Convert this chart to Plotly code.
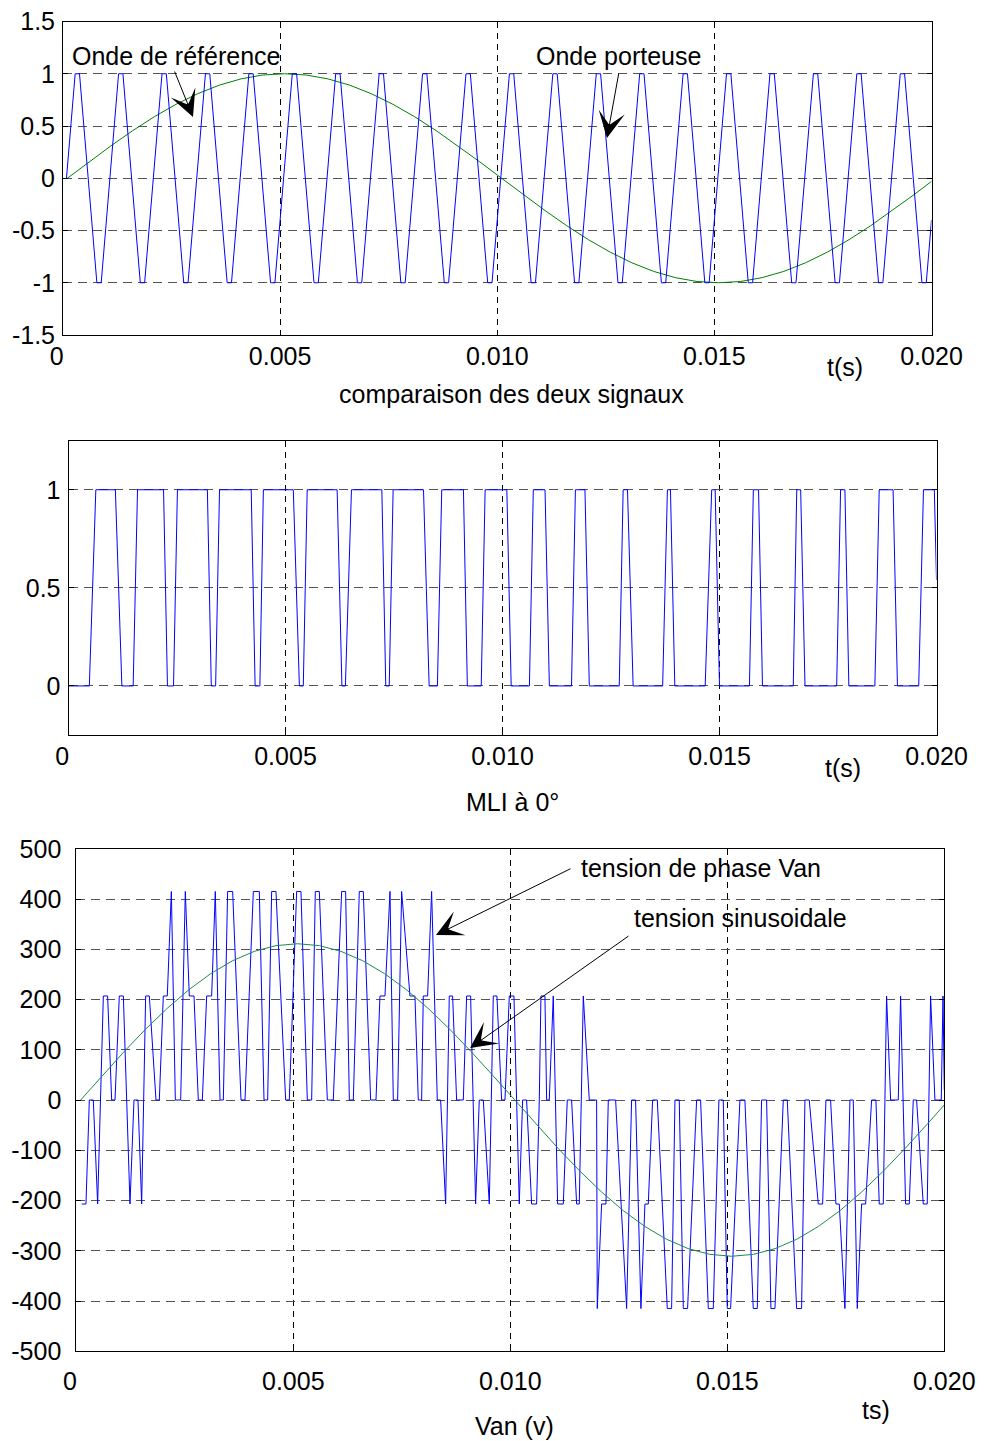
import plotly.graph_objects as go

W, H = 984, 1441
FONT = "Liberation Sans, Arial, sans-serif"
FS = 25

# ---------------- data (times in ms) ----------------
# carrier (triangle) vertices, top chart
carrier_t_ms = [0.08,
                0.28, 0.38, 0.78, 0.88, 1.28, 1.38, 1.78, 1.88, 2.28, 2.38, 2.78, 2.88,
                3.28, 3.38, 3.78, 3.88, 4.28, 4.38, 4.78, 4.88, 5.28, 5.38, 5.78, 5.88,
                6.28, 6.38, 6.78, 6.88, 7.28, 7.38, 7.78, 7.88, 8.28, 8.38, 8.78, 8.88,
                9.28, 9.38, 9.78, 9.88, 10.28, 10.38, 10.78, 10.88, 11.28, 11.38, 11.78, 11.88,
                12.28, 12.38, 12.78, 12.88, 13.28, 13.38, 13.78, 13.88, 14.28, 14.38, 14.78, 14.88,
                15.28, 15.38, 15.78, 15.88, 16.28, 16.38, 16.78, 16.88, 17.28, 17.38, 17.78, 17.88,
                18.28, 18.38, 18.78, 18.88, 19.28, 19.38, 19.78, 19.88,
                20.0]
carrier_v = [0,
             1, 1, -1, -1, 1, 1, -1, -1, 1, 1, -1, -1,
             1, 1, -1, -1, 1, 1, -1, -1, 1, 1, -1, -1,
             1, 1, -1, -1, 1, 1, -1, -1, 1, 1, -1, -1,
             1, 1, -1, -1, 1, 1, -1, -1, 1, 1, -1, -1,
             1, 1, -1, -1, 1, 1, -1, -1, 1, 1, -1, -1,
             1, 1, -1, -1, 1, 1, -1, -1, 1, 1, -1, -1,
             1, 1, -1, -1, 1, 1, -1, -1,
             -0.4]

# reference wave samples (top chart) and sinusoidal voltage (bottom chart)
sin_t_ms = [0.1, 0.6, 1.1, 1.6, 2.1, 2.6, 3.1, 3.6, 4.1, 4.6,
            5.1, 5.6, 6.1, 6.6, 7.1, 7.6, 8.1, 8.6, 9.1, 9.6,
            10.1, 10.6, 11.1, 11.6, 12.1, 12.6, 13.1, 13.6, 14.1, 14.6,
            15.1, 15.6, 16.1, 16.6, 17.1, 17.6, 18.1, 18.6, 19.1, 19.6, 20.0]
ref_v = [0, 0.156, 0.309, 0.454, 0.588, 0.707, 0.809, 0.891, 0.951, 0.988,
         1.0, 0.988, 0.951, 0.891, 0.809, 0.707, 0.588, 0.454, 0.309, 0.156,
         0, -0.156, -0.309, -0.454, -0.588, -0.707, -0.809, -0.891, -0.951, -0.988,
         -1.0, -0.988, -0.951, -0.891, -0.809, -0.707, -0.588, -0.454, -0.309, -0.156, -0.03]
vsin_v = [0, 48.6, 96.1, 141.2, 182.8, 219.9, 251.6, 277.1, 295.8, 307.2,
          311.0, 307.2, 295.8, 277.1, 251.6, 219.9, 182.8, 141.2, 96.1, 48.6,
          0, -48.6, -96.1, -141.2, -182.8, -219.9, -251.6, -277.1, -295.8, -307.2,
          -311.0, -307.2, -295.8, -277.1, -251.6, -219.9, -182.8, -141.2, -96.1, -48.6, -9.8]

# PWM (MLI) switching vertices, middle chart
pwm_t_ms = [0, 0.48, 0.63, 1.08, 1.23, 1.49, 1.59, 2.19, 2.28, 2.42, 2.51, 3.20,
            3.29, 3.39, 3.48, 4.21, 4.30, 4.41, 4.49, 5.18, 5.32, 5.41, 5.50, 6.19,
            6.30, 6.38, 6.52, 7.22, 7.31, 7.39, 7.48, 8.18, 8.31, 8.50, 8.60, 9.10,
            9.19, 9.51, 9.60, 10.10, 10.20, 10.62, 10.71, 10.98, 11.08, 11.59, 11.68, 11.90,
            12.00, 12.69, 12.78, 12.88, 13.01, 13.69, 13.80, 13.87, 13.97, 14.67, 14.82, 14.90,
            15.00, 15.69, 15.78, 15.90, 15.99, 16.70, 16.78, 16.87, 16.97, 17.70, 17.79, 17.89,
            17.98, 18.58, 18.68, 19.00, 19.10, 19.59, 19.70, 19.95, 20.0]
pwm_v = [0, 0, 1, 1, 0, 0, 1, 1, 0, 0, 1, 1,
         0, 0, 1, 1, 0, 0, 1, 1, 0, 0, 1, 1,
         0, 0, 1, 1, 0, 0, 1, 1, 0, 0, 1, 1,
         0, 0, 1, 1, 0, 0, 1, 1, 0, 0, 1, 1,
         0, 0, 1, 1, 0, 0, 1, 1, 0, 0, 1, 1,
         0, 0, 1, 1, 0, 0, 1, 1, 0, 0, 1, 1,
         0, 0, 1, 1, 0, 0, 1, 1, 0.54]

# phase voltage Van vertices, bottom chart
van_t_ms = [0.124, 0.223, 0.300, 0.392, 0.492, 0.561, 0.623, 0.722, 0.815, 0.892,
            0.991, 1.084, 1.237, 1.329, 1.421, 1.506, 1.598, 1.683, 1.836, 1.913,
            2.005, 2.097, 2.190, 2.282, 2.405, 2.512, 2.604, 2.712, 2.811, 2.904,
            3.004, 3.119, 3.203, 3.311, 3.388, 3.487, 3.603, 3.795, 3.887, 4.079,
            4.217, 4.325, 4.409, 4.501, 4.601, 4.824, 4.908, 5.077, 5.177, 5.323,
            5.423, 5.507, 5.600, 5.784, 5.922, 6.114, 6.206, 6.291, 6.383, 6.521,
            6.613, 6.782, 6.905, 6.997, 7.112, 7.228, 7.304, 7.404, 7.496, 7.688,
            7.803, 7.880, 7.957, 7.995, 8.095, 8.187, 8.318, 8.395, 8.510, 8.594,
            8.671, 8.763, 8.917, 8.994, 9.086, 9.201, 9.285, 9.378, 9.516, 9.608,
            9.692, 9.800, 9.877, 9.977, 10.084, 10.207, 10.284, 10.376, 10.491, 10.606,
            10.668, 10.706, 10.798, 10.837, 10.898, 10.990, 11.090, 11.221, 11.313, 11.413,
            11.528, 11.589, 11.682, 11.820, 11.989, 12.004, 12.104, 12.204, 12.258, 12.427,
            12.680, 12.795, 12.887, 13.010, 13.102, 13.179, 13.279, 13.387, 13.617, 13.717,
            13.794, 13.893, 13.986, 14.085, 14.293, 14.385, 14.562, 14.677, 14.807, 14.907,
            14.999, 15.076, 15.291, 15.406, 15.598, 15.691, 15.790, 15.906, 16.005, 16.098,
            16.290, 16.382, 16.597, 16.712, 16.789, 16.889, 17.096, 17.196, 17.273, 17.380,
            17.503, 17.580, 17.710, 17.826, 17.902, 17.995, 18.094, 18.187, 18.325, 18.425,
            18.501, 18.594, 18.670, 18.763, 18.939, 18.993, 19.108, 19.193, 19.285, 19.362,
            19.515, 19.607, 19.684, 19.784, 19.930, 19.970, 20.0]
van_v = [-207, -207, 0, 0, -207, 0, 207, 207, 0, 0,
         207, 207, -207, 0, 0, -207, 207, 207, 0, 0,
         207, 207, 415, 0, 0, 415, 207, 207, 0, 0,
         207, 207, 415, 0, 0, 415, 415, 0, 0, 415,
         415, 0, 0, 415, 415, 0, 0, 415, 415, 0,
         0, 415, 415, 0, 0, 415, 415, 0, 0, 415,
         415, 0, 0, 207, 207, 415, 0, 0, 415, 207,
         207, 0, 0, 207, 207, 415, 0, 0, -207, 207,
         207, 0, 0, 207, 207, -207, 0, 0, -207, 207,
         207, 0, 0, 207, 207, -207, 0, 0, -207, -207,
         0, 207, 207, 0, 0, 207, -207, -207, 0, 0,
         -207, -207, 207, 0, 0, -415, -207, -207, 0, 0,
         -415, 0, 0, -415, -207, -207, 0, 0, -415, -415,
         0, 0, -415, -415, 0, 0, -415, -415, 0, 0,
         -415, -415, 0, 0, -415, -415, 0, 0, -415, -415,
         0, 0, -415, -415, 0, 0, -207, -207, 0, 0,
         -207, -207, -415, 0, 0, -415, -207, -207, 0, 0,
         -207, -207, 207, 0, 0, 207, -207, -207, 0, 0,
         -207, -207, 207, 0, 0, 207, 20]

x_tickvals = [0, 0.005, 0.010, 0.015, 0.020]
x_ticktext = ["0\u2002", "0.005", "0.010", "0.015", "0.020"]
top_yvals = [1.5, 1, 0.5, 0, -0.5, -1, -1.5]
top_ytext = ["1.5", "1", "0.5", "0", "-0.5", "-1", "-1.5"]
mid_yvals = [0, 0.5, 1]
mid_ytext = ["0", "0.5", "1"]
bot_yvals = [500, 400, 300, 200, 100, 0, -100, -200, -300, -400, -500]
bot_ytext = ["500", "400", "300", "200", "100", "0", "-100", "-200", "-300", "-400", "-500"]


def sec(lst):
    return [v / 1000.0 for v in lst]


def px(x):
    return x / W


def py(y):
    return 1 - y / H


BLUE = "#0000FF"
GREEN = "#008000"

fig = go.Figure()
fig.add_trace(go.Scatter(x=sec(sin_t_ms), y=ref_v, mode="lines",
                         line=dict(color=GREEN, width=1), xaxis="x", yaxis="y"))
fig.add_trace(go.Scatter(x=sec(carrier_t_ms), y=carrier_v, mode="lines",
                         line=dict(color=BLUE, width=1), xaxis="x", yaxis="y"))
fig.add_trace(go.Scatter(x=sec(pwm_t_ms), y=pwm_v, mode="lines",
                         line=dict(color=BLUE, width=1), xaxis="x2", yaxis="y2"))
fig.add_trace(go.Scatter(x=sec(van_t_ms), y=van_v, mode="lines",
                         line=dict(color=BLUE, width=1), xaxis="x3", yaxis="y3"))
fig.add_trace(go.Scatter(x=sec(sin_t_ms), y=vsin_v, mode="lines",
                         line=dict(color="#1E8A4C", width=1), xaxis="x3", yaxis="y3"))


def xax(dom, standoff, anchor):
    return dict(domain=dom, range=[0, 0.02], tickvals=x_tickvals, ticktext=x_ticktext,
                anchor=anchor, automargin=False,
                showline=True, linecolor="black", linewidth=1, mirror="ticks",
                ticks="inside", ticklen=5, tickcolor="black",
                showgrid=True, gridcolor="black", gridwidth=1, griddash="6px,5px",
                zeroline=False, ticklabelstandoff=standoff,
                tickfont=dict(family=FONT, size=FS, color="black"))


def yax(dom, rng, vals, text, anchor, standoff):
    return dict(domain=dom, range=rng, tickvals=vals, ticktext=text, anchor=anchor,
                automargin=False,
                showline=True, linecolor="black", linewidth=1, mirror="ticks",
                ticks="inside", ticklen=5, tickcolor="black",
                showgrid=True, gridcolor="#555555", gridwidth=1, griddash="9px,6px",
                zeroline=False, ticklabelstandoff=standoff,
                tickfont=dict(family=FONT, size=FS, color="black"))


ann = []


def label(text, x, y):
    ann.append(dict(text=text, x=px(x), y=py(y), xref="paper", yref="paper",
                    xanchor="center", yanchor="middle", showarrow=False,
                    font=dict(family=FONT, size=FS, color="black")))


def arrow(tail, tip):
    ann.append(dict(text="", x=px(tip[0]), y=py(tip[1]), xref="paper", yref="paper",
                    ax=tail[0] - tip[0], ay=tail[1] - tip[1], showarrow=True,
                    arrowhead=3, arrowsize=4.4, arrowwidth=1, arrowcolor="black"))


label("t(s)", 845, 367)
label("comparaison des deux signaux", 511, 394)
label("t(s)", 843, 768)
label("MLI à 0°", 512, 802)
label("ts)", 876, 1410)
label("Van (v)", 514, 1426)
label("Onde de référence", 176, 56)
label("Onde porteuse", 618, 56)
label("tension de phase Van", 701, 868)
label("tension sinusoidale", 740, 918)
arrow((174, 70), (193, 117))
arrow((619, 72), (607, 138))
arrow((572, 868), (436, 935))
arrow((630, 935), (470, 1048))

fig.update_layout(
    template="none",
    width=W, height=H, margin=dict(l=0, r=0, t=0, b=0, pad=0, autoexpand=False),
    paper_bgcolor="white", plot_bgcolor="white", showlegend=False,
    font=dict(family=FONT, size=FS, color="black"),
    xaxis=xax([px(63), px(931.5)], -1, "y"),
    yaxis=yax([py(335), py(21.5)], [-1.5, 1.5], top_yvals, top_ytext, "x", 2),
    xaxis2=xax([px(68.5), px(936.5)], -1, "y2"),
    yaxis2=yax([py(735), py(440.7)], [-0.25, 1.25], mid_yvals, mid_ytext, "x2", 2),
    xaxis3=xax([px(76.3), px(944.3)], 8, "y3"),
    yaxis3=yax([py(1351.25), py(848.75)], [-500, 500], bot_yvals, bot_ytext, "x3", 9),
    annotations=ann,
)

fig.write_html(
    "out.html",
    post_script="document.body.style.margin='0';"
                "document.body.style.overflow='hidden';"
                "document.documentElement.style.overflow='hidden';",
)
